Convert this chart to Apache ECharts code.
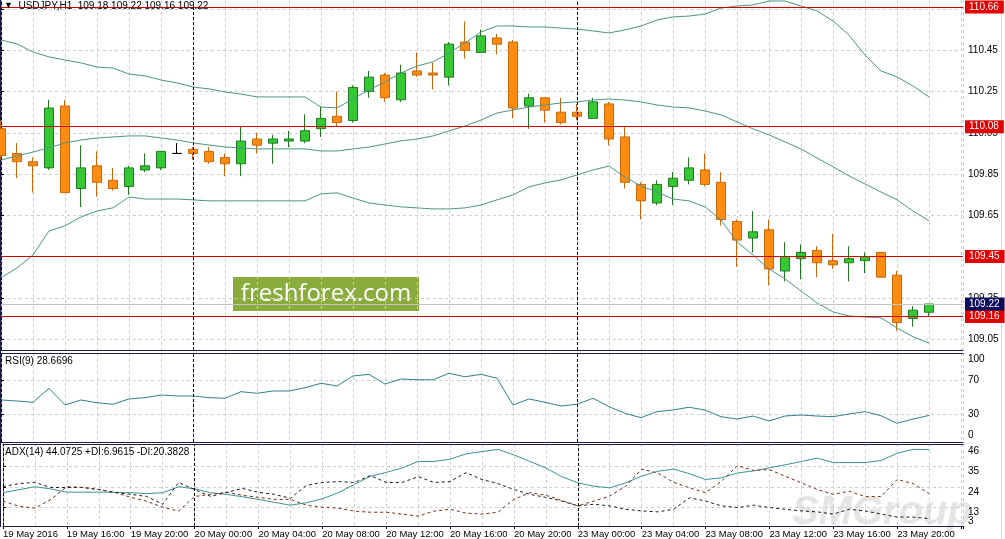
<!DOCTYPE html>
<html><head><meta charset="utf-8">
<script src="https://cdn.jsdelivr.net/npm/echarts@6/dist/echarts.min.js"></script>
<style>html,body{margin:0;padding:0;background:#fff}#c{width:1005px;height:539px}</style>
</head><body><div id="c"></div><script>
// ---- data (USDJPY H1, bar 0 = 19 May 12:00 ... bar 58 = 23 May 22:00) ----
const symbolName = 'USDJPY,H1';
const timeTickLabels = ['19 May 2016','19 May 16:00','19 May 20:00','20 May 00:00','20 May 04:00','20 May 08:00','20 May 12:00','20 May 16:00','20 May 20:00','23 May 00:00','23 May 04:00','23 May 08:00','23 May 12:00','23 May 16:00','23 May 20:00'];
const tickEvery = 4;
const daySeparators = [12, 36];
const opens  = [110.07,109.95,109.91,109.88,110.18,109.78,109.89,109.82,109.79,109.87,109.88,109.95,109.97,109.96,109.93,109.90,110.02,110.00,110.01,110.01,110.07,110.13,110.11,110.25,110.33,110.21,110.35,110.34,110.32,110.49,110.44,110.51,110.49,110.18,110.22,110.15,110.15,110.12,110.19,110.03,109.80,109.71,109.79,109.82,109.87,109.81,109.62,109.54,109.58,109.38,109.44,109.48,109.43,109.42,109.43,109.47,109.36,109.15,109.18];
const highs  = [110.11,110.00,109.93,110.21,110.21,109.99,109.96,109.88,109.89,109.95,109.96,110.00,109.98,109.98,109.95,110.08,110.05,110.04,110.06,110.14,110.18,110.25,110.28,110.35,110.34,110.38,110.44,110.39,110.49,110.59,110.55,110.53,110.50,110.24,110.22,110.22,110.19,110.22,110.20,110.08,109.81,109.82,109.86,109.93,109.95,109.86,109.63,109.67,109.63,109.52,109.51,109.50,109.56,109.50,109.47,109.47,109.38,109.21,109.22];
const lows   = [109.92,109.83,109.76,109.87,109.76,109.69,109.74,109.77,109.75,109.86,109.87,109.95,109.92,109.90,109.84,109.84,109.95,109.90,109.98,110.00,110.03,110.08,110.10,110.22,110.20,110.20,110.32,110.26,110.28,110.41,110.44,110.43,110.12,110.07,110.10,110.09,110.11,110.12,109.99,109.78,109.63,109.70,109.70,109.80,109.79,109.60,109.40,109.47,109.31,109.33,109.34,109.35,109.39,109.33,109.37,109.35,109.09,109.11,109.16];
const closes = [109.94,109.91,109.89,110.17,109.76,109.88,109.81,109.78,109.88,109.89,109.96,109.95,109.95,109.91,109.90,110.01,109.99,110.02,110.02,110.06,110.12,110.10,110.27,110.32,110.22,110.34,110.33,110.33,110.48,110.45,110.52,110.48,110.17,110.22,110.16,110.10,110.13,110.20,110.02,109.81,109.72,109.80,109.83,109.88,109.80,109.63,109.53,109.57,109.39,109.45,109.47,109.42,109.41,109.44,109.45,109.35,109.13,109.19,109.22];
const bbUpper  = [110.500,110.481,110.442,110.418,110.403,110.389,110.369,110.364,110.335,110.326,110.306,110.292,110.272,110.263,110.248,110.238,110.224,110.224,110.224,110.224,110.175,110.171,110.214,110.258,110.297,110.340,110.374,110.394,110.437,110.486,110.539,110.568,110.568,110.563,110.563,110.558,110.553,110.544,110.534,110.549,110.568,110.597,110.612,110.616,110.626,110.655,110.665,110.670,110.689,110.689,110.665,110.641,110.592,110.524,110.427,110.350,110.321,110.277,110.224];
const bbMiddle = [109.918,109.938,109.957,109.977,110.001,110.015,110.025,110.030,110.035,110.035,110.025,110.015,110.001,109.991,109.981,109.977,109.972,109.972,109.972,109.972,109.962,109.962,109.972,109.981,109.996,110.011,110.020,110.035,110.059,110.083,110.112,110.146,110.161,110.175,110.185,110.195,110.200,110.209,110.214,110.209,110.200,110.185,110.175,110.171,110.156,110.137,110.103,110.069,110.040,110.006,109.972,109.928,109.885,109.841,109.802,109.763,109.725,109.671,109.623];
const bbLower  = [109.347,109.395,109.458,109.574,109.599,109.642,109.671,109.686,109.739,109.729,109.729,109.729,109.725,109.720,109.720,109.720,109.720,109.720,109.720,109.720,109.754,109.759,109.734,109.710,109.700,109.691,109.686,109.681,109.681,109.686,109.700,109.725,109.749,109.788,109.807,109.822,109.846,109.870,109.889,109.836,109.792,109.763,109.729,109.720,109.691,109.628,109.521,109.458,109.390,109.342,109.283,109.225,109.182,109.162,109.157,109.153,109.104,109.061,109.031];
const rsi9 = [46.7,45.5,44.0,60.3,40.9,46.7,43.5,41.7,47.9,49.4,52.5,51.4,51.4,49.4,48.7,56.4,54.5,57.2,57.2,61.0,66.2,63.0,74.7,76.6,65.3,71.2,70.3,70.3,77.8,73.8,76.6,72.0,40.9,47.9,44.0,39.7,41.7,48.7,38.9,31.2,26.1,33.1,35.0,38.2,35.0,27.2,24.5,28.0,22.2,28.0,29.2,28.0,27.2,30.4,33.1,28.4,19.5,24.5,28.6696];
const adx14 = [20.9,22.5,24.1,22.9,21.2,21.2,21.2,21.1,20.9,20.4,20.9,24.1,23.0,20.9,20.0,18.7,17.3,15.7,14.2,15.5,17.6,20.9,25.3,29.7,31.8,34.2,37.7,37.7,38.9,41.8,43.0,44.2,41.2,37.7,34.2,29.5,26.2,24.4,23.5,26.2,29.8,32.4,33.6,31.1,28.0,28.9,31.5,32.6,34.3,35.9,37.7,39.5,37.1,37.1,37.1,38.2,42.1,44.2,44.0725];
const plusDI = [24.2,25.8,26.4,23.7,23.7,23.7,22.6,21.1,20.0,18.9,14.7,26.4,22.6,18.9,21.1,23.2,21.1,20.0,17.9,24.8,26.4,26.9,26.4,30.1,26.4,26.4,29.5,26.4,26.9,31.7,28.0,25.8,22.6,20.0,18.4,16.4,13.8,14.7,13.8,12.0,11.1,10.6,12.0,18.2,16.4,13.8,12.9,14.2,12.9,12.0,11.1,10.6,9.4,12.0,11.1,9.4,7.8,7.8,6.9615];
const minusDI = [16.3,13.6,12.6,17.3,24.2,23.7,22.6,21.1,18.4,16.3,13.1,11.0,18.9,20.0,21.1,19.5,18.4,17.3,17.3,14.2,13.1,12.6,11.0,10.4,10.4,9.4,8.3,11.0,12.0,9.9,9.4,10.4,17.3,20.9,19.5,16.8,13.8,16.4,19.1,24.4,33.6,31.5,26.5,23.5,20.9,27.1,35.4,32.9,33.3,29.7,26.2,22.6,20.0,21.7,18.8,18.8,28.0,25.8,20.3828];
const levelLines = [110.66, 110.08, 109.45, 109.16];
const bidPrice = 109.22;
const priceTicks = [109.05,109.25,109.45,109.65,109.85,110.05,110.25,110.45,110.65];
const rsiLabels = [0,30,70,100];
const rsiGrid = [30,70];
const adxLabels = [13,24,35,46];
const adxMinLabel = [3];
const adxGrid = [13,24,35];

// ---- chart ----
const FONT = '"Liberation Sans",Arial,sans-serif';
const NAVY = '#1c1c48';
const GRID = {color:'#cdcdcd', type:[3,3], width:1};
const last = opens.length - 1;
const fmt2 = v => v.toFixed(2);
const xy = arr => arr.map((v, i) => [i, v]);
const xBase = {type:'value', min:0, max:60.125, interval:2, axisLine:{show:true, onZero:false, lineStyle:{color:NAVY, width:1}}, axisTick:{show:false}, axisLabel:{show:false}, splitLine:{show:false}};
const sepMark = () => ({symbol:['none','none'], silent:true, animation:false, label:{show:false},
  lineStyle:{color:'#000', type:[3,2], width:1}, data: daySeparators.map(i => ({xAxis:i}))});
const yLabel = {color:'#000', fontSize:10, fontFamily:FONT, margin:5, showMinLabel:true, showMaxLabel:true, hideOverlap:false};

const boxLabel = (txt, bg) => ({show:true, position:'end', distance:2, formatter: () => txt, backgroundColor:bg, color:'#fff', fontSize:10, fontFamily:FONT, padding:[2,5,1,4]});
const levelData = levelLines.map(p => ({yAxis:p, lineStyle:{color:'#d00000', type:'solid', width:1}, label:boxLabel(fmt2(p), '#e40000')}));
const bidData = {yAxis:bidPrice, lineStyle:{color:'#c4c4c4', type:'solid', width:1}, label:boxLabel(fmt2(bidPrice), '#0c0c5a')};
const sepData = daySeparators.map(i => ({xAxis:i, lineStyle:{color:'#000', type:[3,2], width:1}, label:{show:false}}));

const option = {
  animation:false,
  backgroundColor:'#fff',
  textStyle:{fontFamily:FONT},
  title:[
    {text:'{a|▼}  ' + symbolName + '  ' + [opens[last],highs[last],lows[last],closes[last]].map(fmt2).join(' '), left:4, top:1, padding:0,
     textStyle:{fontSize:10, fontWeight:'normal', color:'#000', fontFamily:FONT, rich:{a:{fontSize:9, color:'#000'}}}},
    {text:'RSI(9) ' + rsi9[last].toFixed(4), left:5, top:356, padding:0, textStyle:{fontSize:10, fontWeight:'normal', color:'#000', fontFamily:FONT}},
    {text:'ADX(14) ' + adx14[last].toFixed(4) + ' +DI:' + plusDI[last].toFixed(4) + ' -DI:' + minusDI[last].toFixed(4), left:5, top:447, padding:0, textStyle:{fontSize:10, fontWeight:'normal', color:'#000', fontFamily:FONT}}
  ],
  grid:[
    {left:1, top:0, width:962, height:350},
    {left:1, top:353, width:962, height:89},
    {left:1, top:444, width:962, height:82}
  ],
  xAxis:[
    Object.assign({}, xBase, {gridIndex:0, position:'bottom', splitLine:{show:true, lineStyle:GRID}}),
    Object.assign({}, xBase, {gridIndex:1, position:'bottom', splitLine:{show:true, lineStyle:GRID}}),
    Object.assign({}, xBase, {gridIndex:1, position:'top'}),
    Object.assign({}, xBase, {gridIndex:2, position:'top', splitLine:{show:true, lineStyle:GRID}}),
    Object.assign({}, xBase, {gridIndex:2, position:'bottom', interval:tickEvery,
      axisTick:{show:true, length:3, lineStyle:{color:'#000'}},
      axisLabel:{show:true, align:'left', margin:3, color:'#000', fontSize:9.5, fontFamily:FONT, hideOverlap:false,
        formatter: v => (Math.abs(v - Math.round(v)) < 1e-6 && Math.round(v) % tickEvery === 0) ? (timeTickLabels[Math.round(v) / tickEvery] || '') : ''}})
  ],
  yAxis:[
    {gridIndex:0, type:'value', position:'right', min:108.997, max:110.694,
     axisLine:{show:true, lineStyle:{color:'#000', type:[3,2]}},
     axisTick:{show:true, length:3, customValues:priceTicks, lineStyle:{color:'#000'}},
     axisLabel:Object.assign({customValues:priceTicks, formatter: v => fmt2(v)}, yLabel),
     splitLine:{show:true, lineStyle:GRID}},
    {gridIndex:1, type:'value', position:'right', min:-2.3, max:101.5,
     axisLine:{show:true, lineStyle:{color:'#000', type:[3,2]}},
     axisTick:{show:true, length:3, customValues:rsiGrid, lineStyle:{color:'#000'}},
     axisLabel:Object.assign({customValues:rsiLabels, verticalAlignMinLabel:'bottom', verticalAlignMaxLabel:'top'}, yLabel),
     splitLine:{show:true, lineStyle:GRID}},
    {gridIndex:2, type:'value', position:'right', min:3, max:47.08,
     axisLine:{show:true, lineStyle:{color:'#000', type:[3,2]}},
     axisTick:{show:true, length:3, customValues:adxGrid, lineStyle:{color:'#000'}},
     axisLabel:Object.assign({customValues:adxLabels, verticalAlign:'top', verticalAlignMaxLabel:'top'}, yLabel),
     splitLine:{show:true, lineStyle:GRID}},
    {gridIndex:2, type:'value', position:'right', min:3, max:47.08,
     axisLine:{show:false}, axisTick:{show:false}, splitLine:{show:false},
     axisLabel:Object.assign({customValues:adxMinLabel, verticalAlign:'bottom', verticalAlignMinLabel:'bottom', verticalAlignMaxLabel:'bottom'}, yLabel)}
  ],
  series:[
    {type:'candlestick', xAxisIndex:0, yAxisIndex:0, barWidth:10,
     dimensions:['i','open','close','lowest','highest'], encode:{x:0, y:[1,2,3,4]},
     data: opens.map((o, i) => [i, o, closes[i], lows[i], highs[i]]),
     itemStyle:{color:'#34c934', color0:'#ff8c10', borderColor:'#1f7a1f', borderColor0:'#c8680c', borderColorDoji:'#000', borderWidth:1},
     markLine:{symbol:['none','none'], silent:true, animation:false, data:[...levelData, bidData, ...sepData]}},
    {type:'line', xAxisIndex:0, yAxisIndex:0, data:xy(bbUpper), showSymbol:false, z:3, lineStyle:{width:1, color:'#4e9585'}},
    {type:'line', xAxisIndex:0, yAxisIndex:0, data:xy(bbMiddle), showSymbol:false, z:3, lineStyle:{width:1, color:'#4e9585'}},
    {type:'line', xAxisIndex:0, yAxisIndex:0, data:xy(bbLower), showSymbol:false, z:3, lineStyle:{width:1, color:'#4e9585'}},
    {type:'line', xAxisIndex:1, yAxisIndex:1, data:xy(rsi9), showSymbol:false, lineStyle:{width:1, color:'#33808f'}, markLine:sepMark()},
    {type:'line', xAxisIndex:4, yAxisIndex:2, data:xy(adx14), showSymbol:false, lineStyle:{width:1, color:'#3a9494'}, markLine:sepMark()},
    {type:'line', xAxisIndex:4, yAxisIndex:2, data:xy(plusDI), showSymbol:false, lineStyle:{width:1, color:'#1a1a1a', type:[3,3]}},
    {type:'line', xAxisIndex:4, yAxisIndex:2, data:xy(minusDI), showSymbol:false, lineStyle:{width:1, color:'#7a2a18', type:[3,3]}}
  ],
  graphic:[
    {type:'line', shape:{x1:0.5, y1:0, x2:0.5, y2:527}, style:{stroke:NAVY, lineWidth:1}, silent:true},
    {type:'line', shape:{x1:1001.5, y1:0, x2:1001.5, y2:539}, style:{stroke:'#d8d8d8', lineWidth:1}, silent:true},
    {type:'group', left:233, top:277, silent:true, children:[
      {type:'rect', shape:{x:0, y:0, width:186, height:34}, style:{fill:'#8aac3c'}},
      {type:'text', x:93, y:17, style:{text:'freshforex.com', fill:'#fff', font:'24px "Open Sans"', align:'center', verticalAlign:'middle'}}
    ]},
    {type:'text', left:792, top:493, silent:true, style:{text:'SMGroup', fill:'rgba(160,160,160,0.28)', font:'italic bold 40px "Liberation Sans"'}}
  ]
};
const chart = echarts.init(document.getElementById('c'), null, {renderer:'canvas'});
chart.setOption(option);
</script></body></html>
